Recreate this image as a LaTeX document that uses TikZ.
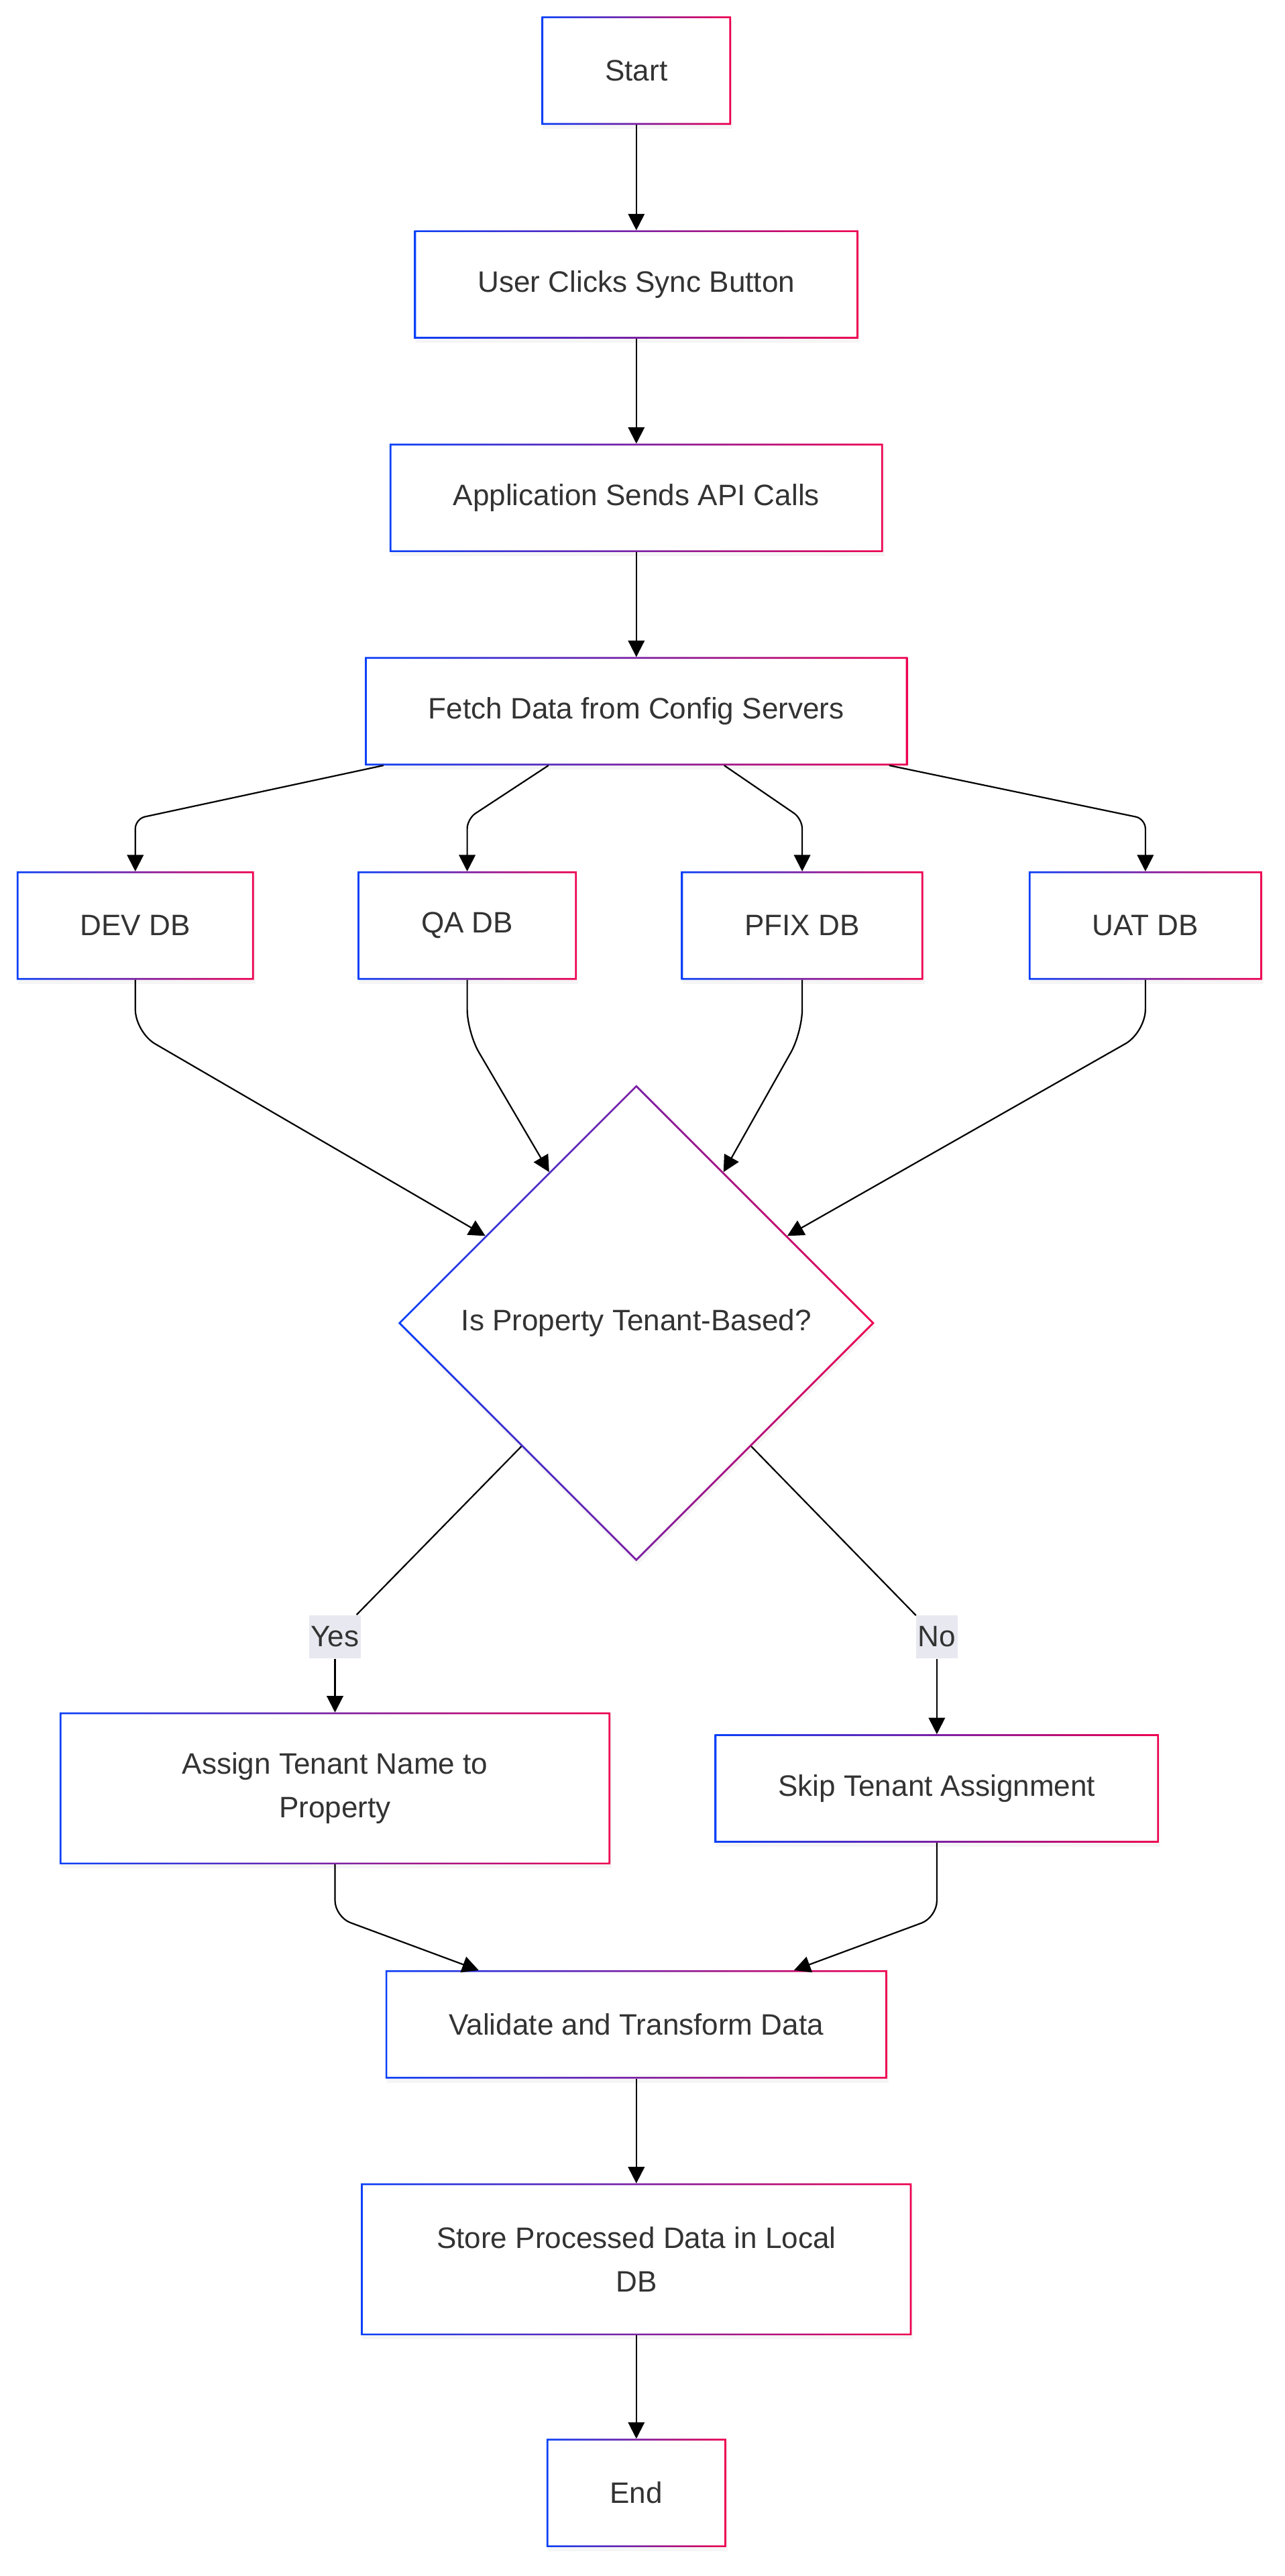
\documentclass[tikz,border=0pt]{standalone}
\usepackage{fontspec}
\setmainfont{Liberation Sans}
\usetikzlibrary{
    arrows.meta,
    shapes.geometric, % for the diamond
    shadows
}
\definecolor{gradblue}{HTML}{0A40F8}
\definecolor{gradred}{HTML}{EE0050}
\definecolor{ink}{HTML}{333333}
\definecolor{labelbg}{HTML}{E8E8F0}

\newcommand{\gradbox}[1]{%
  \shade[left color=gradblue, right color=gradred, even odd rule]
    (#1.south west) rectangle (#1.north east)
    ([shift={(1.1pt,1.1pt)}]#1.south west) rectangle ([shift={(-1.1pt,-1.1pt)}]#1.north east);}
\newcommand{\graddiamond}[1]{%
  \shade[left color=gradblue, right color=gradred, even odd rule]
    (#1.north) -- (#1.east) -- (#1.south) -- (#1.west) -- cycle
    ([yshift=-1.6pt]#1.north) -- ([xshift=-1.6pt]#1.east)
    -- ([yshift=1.6pt]#1.south) -- ([xshift=1.6pt]#1.west) -- cycle;}

\begin{document}
\begin{tikzpicture} [x=1pt, y=-1pt,
    process/.style={rectangle, fill=white, outer sep=0pt,
                  inner xsep=38.7pt, inner ysep=0pt, minimum height=66pt,
                  text=ink, font=\fontsize{18}{26.6}\selectfont,
                  drop shadow={opacity=0.08, shadow xshift=0.8pt, shadow yshift=-2.5pt}},
    wrapped/.style={process, align=center, minimum width=335.4pt, minimum height=92.5pt},
    decision/.style={diamond, fill=white, outer sep=0pt, inner sep=0pt, aspect=1,
                  minimum width=290pt, minimum height=290pt,
                  text=ink, font=\fontsize{18}{26.6}\selectfont,
                  drop shadow={opacity=0.08, shadow xshift=0.8pt, shadow yshift=-2.5pt}},
    edgelabel/.style={rectangle, fill=labelbg, inner xsep=1pt, inner ysep=0pt,
                  minimum height=26.5pt, text=ink, font=\fontsize{18}{26.6}\selectfont},
    flow/.style={draw=black, line width=0.9pt, rounded corners=6pt,
                  -{Triangle[length=10pt,width=10pt]}}
]
    \useasboundingbox (0,0) rectangle (782.5,1568.3);

    \node[process]  (start)    at (387.5,  43.0) {Start};
    \node[process]  (user)     at (387.5, 173.2) {User Clicks Sync Button};
    \node[process]  (app)      at (387.5, 303.1) {Application Sends API Calls};
    \node[process]  (fetch)    at (387.5, 433.0) {Fetch Data from Config Servers};
    \node[process]  (dev)      at ( 82.4, 563.5) {DEV DB};
    \node[process]  (qa)       at (284.5, 563.5) {QA DB};
    \node[process]  (pfix)     at (488.5, 563.5) {PFIX DB};
    \node[process]  (uat)      at (697.5, 563.5) {UAT DB};
    \node[decision] (tenant)   at (387.5, 805.5) {Is Property Tenant-Based?};
    \node[wrapped]  (assign)   at (204.0,1088.8) {Assign Tenant Name to\\Property};
    \node[process]  (skip)     at (570.5,1088.8) {Skip Tenant Assignment};
    \node[process]  (validate) at (387.5,1232.5) {Validate and Transform Data};
    \node[wrapped]  (store)    at (387.5,1375.5) {Store Processed Data in Local\\DB};
    \node[process]  (finish)   at (387.5,1517.7) {End};

    \foreach \n in {start,user,app,fetch,dev,qa,pfix,uat,assign,skip,validate,store,finish}
        \gradbox{\n};
    \graddiamond{tenant}

    \node[edgelabel] (yes) at (204.0, 996.5) {Yes};
    \node[edgelabel] (no)  at (570.5, 996.5) {No};

    \draw[flow] (start) -- (user);
    \draw[flow] (user) -- (app);
    \draw[flow] (app) -- (fetch);
    \draw[flow] ([xshift=-154pt]fetch.south) -- ([yshift=32pt]dev.north) -- (dev.north);
    \draw[flow] ([xshift=-53.5pt]fetch.south) -- ([yshift=32pt]qa.north) -- (qa.north);
    \draw[flow] ([xshift=53.5pt]fetch.south) -- ([yshift=32pt]pfix.north) -- (pfix.north);
    \draw[flow] ([xshift=154pt]fetch.south) -- ([yshift=32pt]uat.north) -- (uat.north);
    \draw[flow, rounded corners=14pt] (dev.south) -- ([yshift=-32pt]dev.south) -- (tenant.150);
    \draw[flow, rounded corners=14pt] (qa.south) -- ([yshift=-32pt]qa.south) -- (tenant.120);
    \draw[flow, rounded corners=14pt] (pfix.south) -- ([yshift=-32pt]pfix.south) -- (tenant.60);
    \draw[flow, rounded corners=14pt] (uat.south) -- ([yshift=-32pt]uat.south) -- (tenant.30);
    \draw[line width=0.9pt] (tenant.227) -- (yes);
    \draw[flow] (yes) -- (assign);
    \draw[line width=0.9pt] (tenant.313) -- (no);
    \draw[flow] (no) -- (skip);
    \draw[flow, rounded corners=10pt] (assign.south) -- ([yshift=-32pt]assign.south)
        -- ([xshift=-96pt]validate.north);
    \draw[flow, rounded corners=10pt] (skip.south) -- ([yshift=-45.5pt]skip.south)
        -- ([xshift=96pt]validate.north);
    \draw[flow] (validate) -- (store);
    \draw[flow] (store) -- (finish);
\end{tikzpicture}
\end{document}
